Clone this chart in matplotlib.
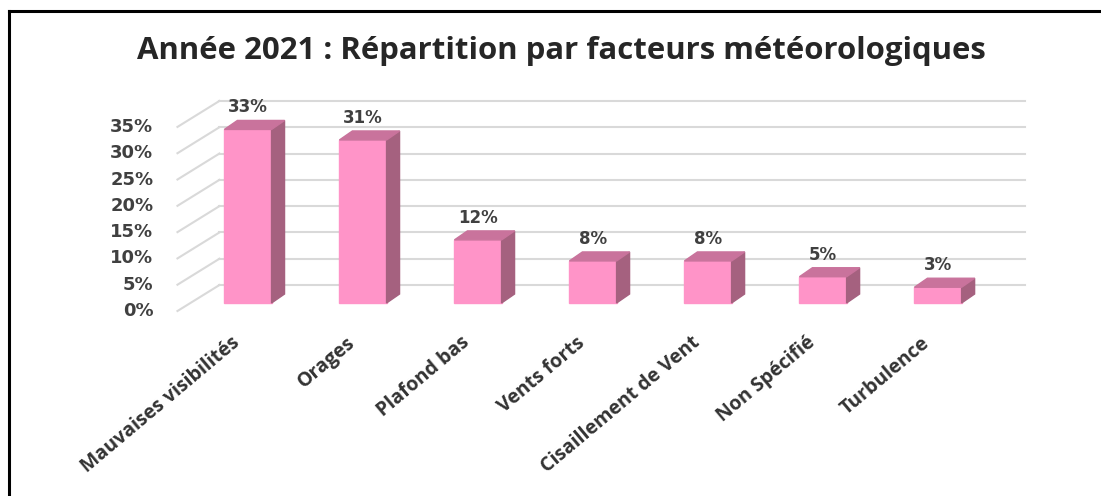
import numpy as np
import matplotlib
matplotlib.use("Agg")
import matplotlib.pyplot as plt
from matplotlib.lines import Line2D

# data
categories = ["Mauvaises visibilités", "Orages", "Plafond bas", "Vents forts",
              "Cisaillement de Vent", "Non Spécifié", "Turbulence"]
values = [33, 31, 12, 8, 8, 5, 3]
yticks = [0, 5, 10, 15, 20, 25, 30, 35]
title = "Année 2021 : Répartition par facteurs météorologiques"

# colours
face_col = "#FF94C8"
side_col = "#A5617F"
top_col = "#C9739C"
grid_col = "#D9D9D9"
text_col = "#404040"

# pseudo 3d depth offsets (x in category units, y in percent)
wall_d = (0.365, 4.94)
bar_f = (0.113, 1.52)
bar_b = (0.226, 3.23)
half_w = 0.205

fig = plt.figure(figsize=(11.01, 4.96), dpi=100)
ax = fig.add_axes([0, 0, 1, 1])
ax.set_xlim(-2.043, 7.53)
ax.set_ylim(-35.17, 59.13)
ax.axis("off")

n = len(categories)
left, right = -0.5, n - 0.5

#### gridlines: left side wall + back wall
for v in yticks:
    ax.plot([left, left + wall_d[0]], [v, v + wall_d[1]], color=grid_col, lw=1.5, zorder=1)
    ax.plot([left + wall_d[0], right + wall_d[0]], [v + wall_d[1], v + wall_d[1]],
            color=grid_col, lw=1.5, zorder=1)
    ax.text(left - 0.21, v, f"{v}%", ha="right", va="center", fontsize=13,
            fontweight="bold", color=text_col)

#### bars
for i, v in enumerate(values):
    x0, x1 = i - half_w, i + half_w
    # front face
    ax.fill([x0 + bar_f[0], x1 + bar_f[0], x1 + bar_f[0], x0 + bar_f[0]],
            [bar_f[1], bar_f[1], v + bar_f[1], v + bar_f[1]], color=face_col, zorder=3)
    # side
    ax.fill([x1 + bar_f[0], x1 + bar_b[0], x1 + bar_b[0], x1 + bar_f[0]],
            [bar_f[1], bar_b[1], v + bar_b[1], v + bar_f[1]], color=side_col, zorder=3)
    # top
    ax.fill([x0 + bar_f[0], x1 + bar_f[0], x1 + bar_b[0], x0 + bar_b[0]],
            [v + bar_f[1], v + bar_f[1], v + bar_b[1], v + bar_b[1]], color=top_col, zorder=3)
    # data label
    ax.annotate(f"{v}%", (i + bar_f[0], v + bar_b[1]), xytext=(0, 13),
                textcoords="offset pixels", ha="center", va="center",
                fontsize=12, fontweight="bold", color=text_col)
    # category label
    ax.text(i + 0.02, -5.6, categories[i], rotation=40, rotation_mode="anchor",
            ha="right", va="center", fontsize=14, fontweight="bold",
            family="Open Sans", color="#333333")

fig.text(0.5095, 1 - 51 / 496, title, ha="center", va="center", fontsize=22.4,
         fontweight="bold", family="Open Sans", color="#262626")

# chart border (left and top only visible)
fig.add_artist(Line2D([9 / 1101, 9 / 1101], [0, 1 - 11 / 496], color="black", lw=2.2,
                      transform=fig.transFigure))
fig.add_artist(Line2D([9 / 1101, 1], [1 - 11 / 496, 1 - 11 / 496], color="black", lw=2.2,
                      transform=fig.transFigure))

plt.savefig("out.png", dpi=100)
